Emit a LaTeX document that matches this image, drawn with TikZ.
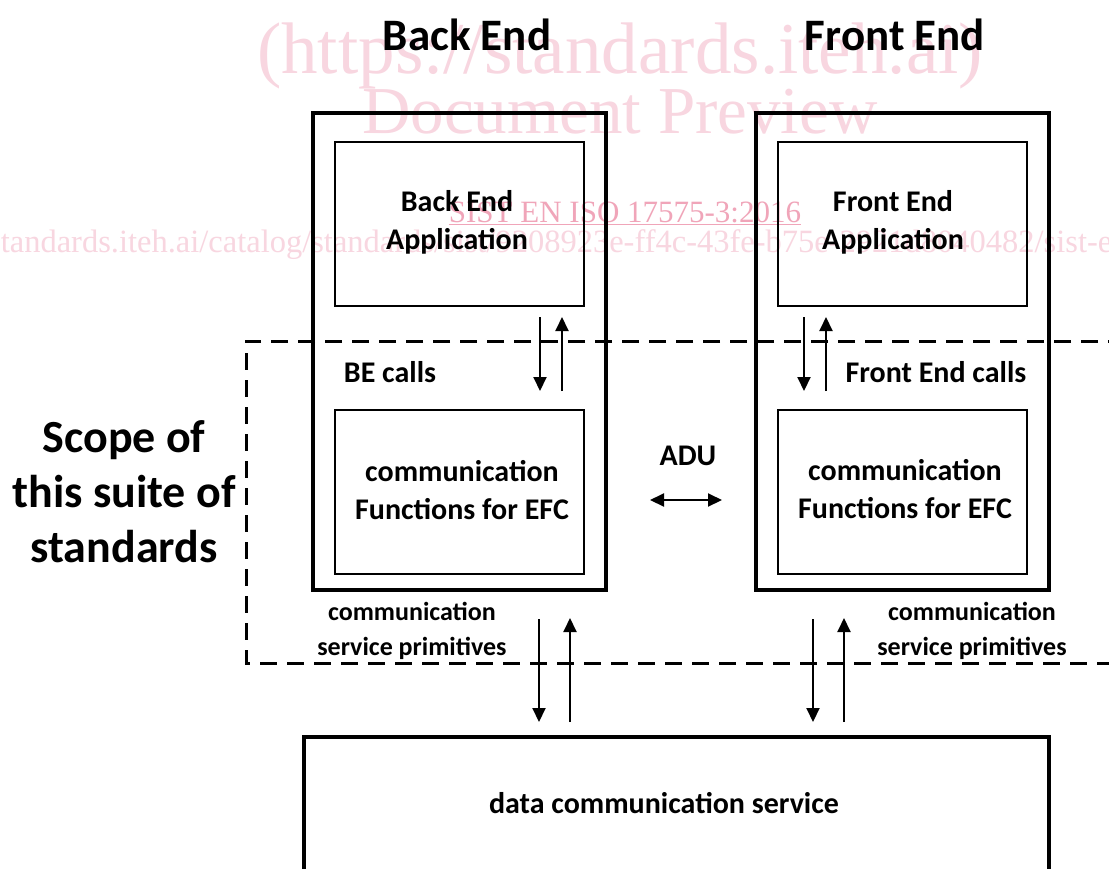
\documentclass[tikz,border=0pt]{standalone}
\usepackage{fontspec}
\setmainfont{Carlito}
\newfontfamily\wmfont{Liberation Serif}
\usetikzlibrary{arrows.meta}
\definecolor{wmpink}{RGB}{248,214,224}
\definecolor{wmred}{RGB}{240,165,185}
\begin{document}
\begin{tikzpicture}[x=1pt,y=-1pt,
  outerbox/.style={draw, line width=3.5pt, minimum width=293pt, minimum height=477pt, inner sep=0pt, outer sep=0pt},
  innerbox/.style={draw, line width=2.5pt, minimum width=249pt, minimum height=164pt, inner sep=0pt, outer sep=0pt},
  lbl/.style={inner sep=0pt, align=center, font=\fontsize{30}{38}\selectfont\bfseries},
  small/.style={inner sep=0pt, align=center, font=\fontsize{26}{35}\selectfont\bfseries},
  title/.style={inner sep=0pt, font=\fontsize{45}{50}\selectfont\bfseries},
  wm/.style={inner sep=0pt, text=wmpink},
  arr/.style={-{Triangle[length=14pt,width=13pt]}, line width=2pt},
  dbl/.style={{Triangle[length=14pt,width=13pt]}-{Triangle[length=14pt,width=13pt]}, line width=2pt},
  scopeline/.style={line width=3pt, dash pattern=on 17pt off 10pt}
]
\useasboundingbox (0,0) rectangle (1109,868);
\fill[white] (0,0) rectangle (1109,868);
% watermark
\node[wm, anchor=base, font=\wmfont\fontsize{73}{73}\selectfont] (wma) at (620,73) {(https://standards.iteh.ai)};
\node[wm, anchor=base, font=\wmfont\fontsize{67}{67}\selectfont] (wmb) at (620,133) {Document Preview};
\node[wm, text=wmred, anchor=base, font=\wmfont\fontsize{31}{31}\selectfont] (wmc) at (625,222) {\underline{SIST EN ISO 17575-3:2016}};
\node[wm, anchor=base west, font=\wmfont\fontsize{32.5}{33}\selectfont] (wmd) at (-12,252) {standards.iteh.ai/catalog/standards/sist/9208923e-ff4c-43fe-b75e-2921d8040482/sist-en-iso-17575-3-2016};
% scope
\draw[scopeline] (1125,341) -- (246,341) -- (246,663) -- (1125,663);
% boxes
\node[outerbox] (beo) at (459.5,351.5) {};
\node[outerbox] (feo) at (902.5,351.5) {};
\node[innerbox] (beapp) at (459.5,224) {};
\node[innerbox] (becomm) at (459.5,492) {};
\node[innerbox] (feapp) at (902.5,224) {};
\node[innerbox] (fecomm) at (902.5,492) {};
\node[draw, line width=3.5pt, minimum width=745pt, minimum height=143pt, inner sep=0pt, outer sep=0pt] (dcs) at (676.5,808.5) {};
% titles
\node[title] (tbe) at (467,35) {Back End};
\node[title] (tfe) at (895,35) {Front End};
% texts
\node[lbl] (tbeapp) at (457,222) {Back End\\Application};
\node[lbl] (tfeapp) at (893,222) {Front End\\Application};
\node[lbl] (tbecomm) at (462,490) {communication\\Functions for EFC};
\node[lbl] (tfecomm) at (905,489) {communication\\Functions for EFC};
\node[lbl] (tbecalls) at (390,372) {BE calls};
\node[lbl] (tfecalls) at (936,372) {Front End calls};
\node[lbl] (tadu) at (688,456) {ADU};
\node[small] (tbeprim) at (412,631) {communication\\service primitives};
\node[small] (tfeprim) at (972,631) {communication\\service primitives};
\node[inner sep=0pt, align=center, font=\fontsize{46}{55}\selectfont\bfseries] (tscope) at (124,492) {Scope of\\this suite of\\standards};
\node[lbl] (tdcs) at (664,803) {data communication service};
% upper arrows
\draw[arr, shorten <=11pt, shorten >=19pt] ([xshift=80.5pt]beapp.south) -- ([xshift=80.5pt]becomm.north);
\draw[arr, shorten <=19pt, shorten >=11pt] ([xshift=102.5pt]becomm.north) -- ([xshift=102.5pt]beapp.south);
\draw[arr, shorten <=11pt, shorten >=19pt] ([xshift=-98.5pt]feapp.south) -- ([xshift=-98.5pt]fecomm.north);
\draw[arr, shorten <=19pt, shorten >=11pt] ([xshift=-76.5pt]fecomm.north) -- ([xshift=-76.5pt]feapp.south);
% lower arrows
\coordinate (bd) at ([xshift=79.5pt]beo.south);
\coordinate (bu) at ([xshift=110.5pt]beo.south);
\coordinate (fd) at ([xshift=-89.5pt]feo.south);
\coordinate (fu) at ([xshift=-58.5pt]feo.south);
\draw[arr, shorten <=29pt, shorten >=15pt] (bd) -- (bd |- dcs.north);
\draw[arr, shorten <=15pt, shorten >=28pt] (bu |- dcs.north) -- (bu);
\draw[arr, shorten <=29pt, shorten >=15pt] (fd) -- (fd |- dcs.north);
\draw[arr, shorten <=15pt, shorten >=28pt] (fu |- dcs.north) -- (fu);
% ADU arrow
\coordinate (aduy) at (0,500);
\draw[dbl, shorten <=44pt, shorten >=34pt] (beo.east |- aduy) -- (feo.west |- aduy);
\end{tikzpicture}
\end{document}
